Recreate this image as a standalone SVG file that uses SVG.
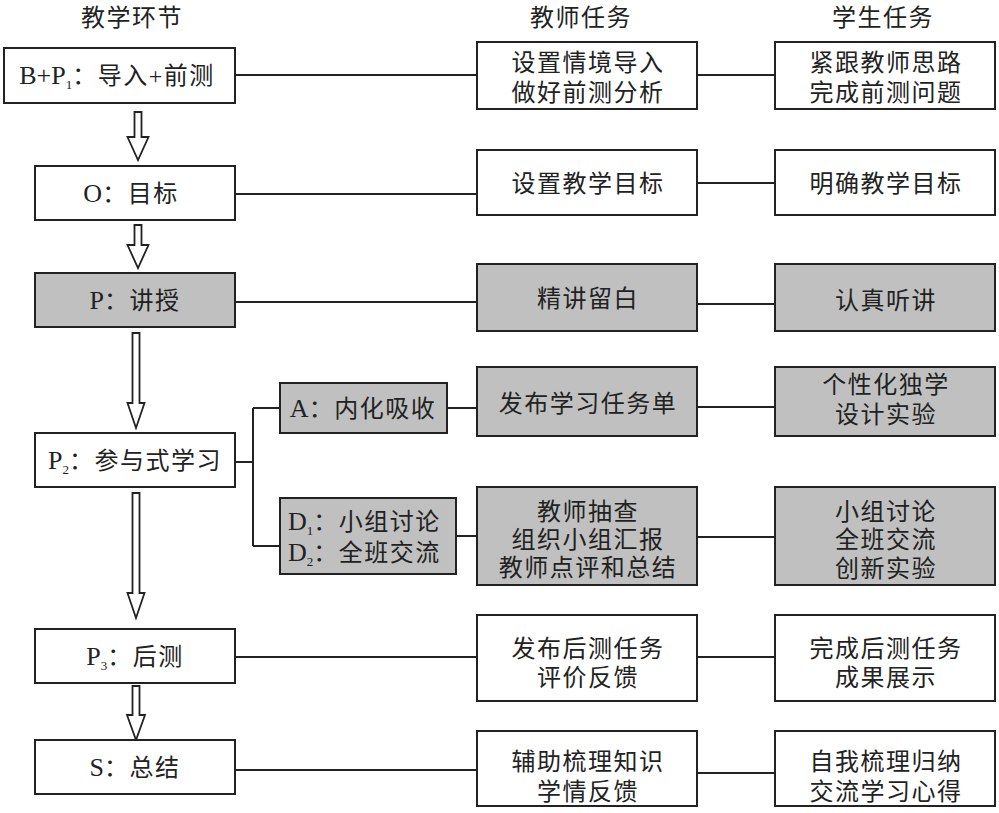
<svg xmlns="http://www.w3.org/2000/svg" width="999" height="813" viewBox="0 0 999 813">
<style>
.bx{fill:#fff;stroke:#222;stroke-width:2}
.gr{fill:#c0c0c0;stroke:#222;stroke-width:2}
.ln{fill:none;stroke:#222;stroke-width:2}
.ar{fill:#fff;stroke:#222;stroke-width:1.8;stroke-linejoin:miter}
text{font-family:"Liberation Serif","Noto Sans CJK SC",serif;font-size:24px;fill:#222;letter-spacing:1.5px}
.c{text-anchor:middle}
.L{font-size:26px;letter-spacing:0}
.sub{font-size:13px;letter-spacing:0}
</style>
<rect width="999" height="813" fill="#fff"/>
<g id="headers">
<text class="c" x="132" y="26">教学环节</text>
<text class="c" x="581" y="26">教师任务</text>
<text class="c" x="883" y="26">学生任务</text>
</g>
<g id="connectors">
<line class="ln" x1="235" y1="75" x2="477" y2="75"/>
<line class="ln" x1="697" y1="75" x2="775" y2="75"/>
<line class="ln" x1="235" y1="194" x2="477" y2="194"/>
<line class="ln" x1="697" y1="183" x2="775" y2="183"/>
<line class="ln" x1="235" y1="302" x2="477" y2="302"/>
<line class="ln" x1="697" y1="304" x2="775" y2="304"/>
<path class="ln" d="M235 462H253M253 408V546M253 408H280M253 546H280"/>
<line class="ln" x1="447" y1="408" x2="477" y2="408"/>
<line class="ln" x1="697" y1="407" x2="775" y2="407"/>
<line class="ln" x1="456" y1="536" x2="477" y2="536"/>
<line class="ln" x1="697" y1="537" x2="775" y2="537"/>
<line class="ln" x1="235" y1="657" x2="477" y2="657"/>
<line class="ln" x1="697" y1="657" x2="775" y2="657"/>
<line class="ln" x1="235" y1="770" x2="477" y2="770"/>
<line class="ln" x1="697" y1="773" x2="775" y2="773"/>
<polygon class="ar" points="134.5,112 141.5,112 141.5,137 148.5,137 138,160 127.5,137 134.5,137"/>
<polygon class="ar" points="134.5,225 141.5,225 141.5,245 148.5,245 138,268 127.5,245 134.5,245"/>
<polygon class="ar" points="132.5,333 139.5,333 139.5,403 144.5,403 136,428 127.5,403 132.5,403"/>
<polygon class="ar" points="132.5,493 139.5,493 139.5,593 144.5,593 136,618 127.5,593 132.5,593"/>
<polygon class="ar" points="132.5,686 139.5,686 139.5,715 145,715 136,740 127,715 132.5,715"/>
</g>
<g id="n-bp1"><rect class="bx" x="4" y="48" width="231" height="55"/><text class="c" x="117" y="84"><tspan class="L">B+P</tspan><tspan class="sub" dy="5">1</tspan><tspan dy="-5">：导入+前测</tspan></text></g>
<g id="n-o"><rect class="bx" x="35" y="166" width="200" height="54"/><text class="c" x="131" y="202"><tspan class="L">O</tspan>：目标</text></g>
<g id="n-p"><rect class="gr" x="35" y="273" width="200" height="54"/><text class="c" x="135" y="309"><tspan class="L">P</tspan>：讲授</text></g>
<g id="n-p2"><rect class="bx" x="35" y="433" width="200" height="54"/><text class="c" x="135" y="469"><tspan class="L">P</tspan><tspan class="sub" dy="5">2</tspan><tspan dy="-5">：参与式学习</tspan></text></g>
<g id="n-a"><rect class="gr" x="280" y="383" width="167" height="50"/><text class="c" x="363" y="417"><tspan class="L">A</tspan>：内化吸收</text></g>
<g id="n-d"><rect class="gr" x="280" y="498" width="176" height="76"/><text x="288" y="530"><tspan class="L">D</tspan><tspan class="sub" dy="5">1</tspan><tspan dy="-5">：小组讨论</tspan></text><text x="288" y="561"><tspan class="L">D</tspan><tspan class="sub" dy="5">2</tspan><tspan dy="-5">：全班交流</tspan></text></g>
<g id="n-p3"><rect class="bx" x="35" y="629" width="200" height="54"/><text class="c" x="135" y="665"><tspan class="L">P</tspan><tspan class="sub" dy="5">3</tspan><tspan dy="-5">：后测</tspan></text></g>
<g id="n-s"><rect class="bx" x="35" y="740" width="200" height="54"/><text class="c" x="135" y="776"><tspan class="L">S</tspan>：总结</text></g>

<g id="t1"><rect class="bx" x="477" y="42" width="220" height="67"/><text class="c" x="588" y="71">设置情境导入</text><text class="c" x="588" y="101">做好前测分析</text></g>
<g id="s1"><rect class="bx" x="775" y="42" width="220" height="67"/><text class="c" x="886" y="71">紧跟教师思路</text><text class="c" x="886" y="101">完成前测问题</text></g>
<g id="t2"><rect class="bx" x="477" y="150" width="220" height="65"/><text class="c" x="588" y="192">设置教学目标</text></g>
<g id="s2"><rect class="bx" x="775" y="150" width="220" height="65"/><text class="c" x="886" y="192">明确教学目标</text></g>
<g id="t3"><rect class="gr" x="477" y="264" width="220" height="67"/><text class="c" x="588" y="307">精讲留白</text></g>
<g id="s3"><rect class="gr" x="775" y="264" width="220" height="67"/><text class="c" x="886" y="309">认真听讲</text></g>
<g id="t4"><rect class="gr" x="477" y="367" width="220" height="69"/><text class="c" x="588" y="412">发布学习任务单</text></g>
<g id="s4"><rect class="gr" x="775" y="367" width="220" height="69"/><text class="c" x="886" y="393">个性化独学</text><text class="c" x="886" y="423">设计实验</text></g>
<g id="t5"><rect class="gr" x="477" y="487" width="220" height="98"/><text class="c" x="588" y="520">教师抽查</text><text class="c" x="588" y="548">组织小组汇报</text><text class="c" x="588" y="576">教师点评和总结</text></g>
<g id="s5"><rect class="gr" x="775" y="487" width="220" height="98"/><text class="c" x="886" y="520">小组讨论</text><text class="c" x="886" y="548">全班交流</text><text class="c" x="886" y="577">创新实验</text></g>
<g id="t6"><rect class="bx" x="477" y="615" width="220" height="86"/><text class="c" x="588" y="657">发布后测任务</text><text class="c" x="588" y="686">评价反馈</text></g>
<g id="s6"><rect class="bx" x="775" y="615" width="220" height="86"/><text class="c" x="886" y="657">完成后测任务</text><text class="c" x="886" y="686">成果展示</text></g>
<g id="t7"><rect class="bx" x="477" y="731" width="220" height="75"/><text class="c" x="588" y="770">辅助梳理知识</text><text class="c" x="588" y="800">学情反馈</text></g>
<g id="s7"><rect class="bx" x="775" y="731" width="220" height="75"/><text class="c" x="886" y="770">自我梳理归纳</text><text class="c" x="886" y="800">交流学习心得</text></g>
</svg>
